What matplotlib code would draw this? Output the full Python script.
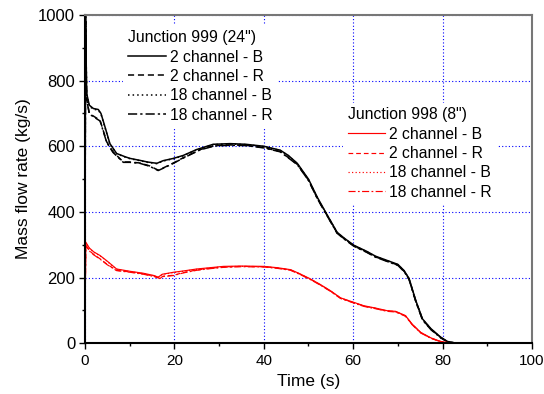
import matplotlib
matplotlib.use("Agg")
import matplotlib.pyplot as plt
from matplotlib.ticker import MultipleLocator

plt.rcParams["font.family"] = ["Liberation Sans", "DejaVu Sans"]

# Junction 999 (24") -- black
t_999_2b = [0, 0.15, 0.4, 1.0, 1.9, 3.0, 3.6, 4.5, 5.6, 7.1, 9.0, 10.1, 12.3, 14.0, 16.1,
            17.5, 19.8, 22.0, 25.0, 28.7, 32.5, 36.0, 40.0, 43.7, 45.5, 47.5, 50.0, 52.0,
            53.8, 56.4, 58.0, 60.2, 63.0, 65.0, 67.6, 70.0, 71.4, 72.5, 74.0, 75.5, 77.4,
            79.6, 81.1, 83.0, 100.0]
m_999_2b = [0, 1000, 761, 725, 715, 712, 700, 659, 608, 578, 568, 563, 557, 552, 548,
            556, 563, 572, 590, 606, 608, 606, 600, 588, 572, 548, 500, 444,
            400, 338, 320, 298, 280, 265, 252, 240, 221, 197, 130, 74, 44,
            18, 5, 0, 0]
t_999_18b = t_999_2b
m_999_18b = [0, 1000, 758, 722, 713, 710, 698, 657, 606, 577, 567, 562, 556, 551, 547,
             555, 562, 571, 589, 605, 607, 605, 599, 587, 571, 547, 498, 442,
             399, 337, 319, 297, 279, 264, 251, 239, 220, 196, 129, 73, 43,
             17, 5, 0, 0]

t_999_2r = [0, 0.15, 0.4, 1.0, 1.9, 3.4, 4.9, 6.3, 8.6, 10.1, 12.3, 14.5, 16.4, 18.0,
            19.8, 22.0, 25.8, 29.0, 32.5, 36.0, 40.0, 43.7, 47.5, 50.0, 52.0, 53.8,
            56.4, 58.0, 60.2, 63.0, 65.0, 67.6, 70.0, 71.4, 72.5, 74.0, 75.5, 77.4,
            79.6, 81.1, 83.0, 100.0]
m_999_2r = [0, 980, 745, 700, 692, 679, 613, 583, 552, 552, 549, 540, 527, 537,
            549, 565, 590, 602, 604, 603, 596, 584, 545, 497, 441, 398,
            336, 318, 296, 278, 263, 250, 238, 219, 195, 128, 72, 42,
            17, 4, 0, 0]
t_999_18r = t_999_2r
m_999_18r = [0, 980, 743, 698, 690, 677, 611, 581, 551, 551, 548, 539, 526, 536,
             548, 564, 589, 601, 603, 602, 595, 583, 544, 496, 440, 397,
             335, 317, 295, 277, 262, 249, 237, 218, 194, 127, 71, 41,
             16, 4, 0, 0]

# Junction 998 (8") -- red
t_998_2b = [0, 0.2, 1.0, 2.0, 3.4, 5.0, 7.1, 10.1, 13.1, 15.5, 16.4, 17.3, 19.8, 22.0,
            25.0, 28.0, 31.0, 35.0, 40.0, 43.0, 46.0, 48.0, 50.4, 52.5, 54.9, 57.2,
            60.0, 62.4, 65.0, 67.6, 69.5, 71.7, 73.2, 75.1, 77.4, 79.6, 82.0, 100.0]
m_998_2b = [0, 308, 290, 278, 267, 250, 226, 219, 213, 206, 201, 210, 216, 220,
            226, 230, 234, 235, 234, 230, 224, 212, 196, 180, 160, 138,
            125, 114, 107, 99, 97, 84, 58, 33, 16, 5, 0, 0]
t_998_18b = t_998_2b
m_998_18b = [0, 306, 289, 277, 266, 249, 225, 218, 212, 205, 200, 209, 215, 219,
             225, 229, 233, 234, 233, 229, 223, 211, 195, 179, 159, 137,
             124, 113, 106, 98, 96, 83, 57, 32, 15, 5, 0, 0]

t_998_2r = [0, 0.2, 1.0, 2.0, 3.4, 5.0, 7.1, 10.1, 13.1, 15.5, 16.8, 17.5, 19.8, 22.0,
            25.0, 28.0, 31.0, 35.0, 40.0, 43.0, 46.0, 48.0, 50.4, 52.5, 54.9, 57.2,
            60.0, 62.4, 65.0, 67.6, 69.5, 71.7, 73.2, 75.1, 77.4, 79.6, 82.0, 100.0]
m_998_2r = [0, 300, 282, 270, 257, 240, 222, 217, 211, 204, 198, 204, 207, 215,
            223, 228, 232, 234, 233, 229, 223, 211, 195, 179, 159, 137,
            124, 113, 106, 98, 96, 83, 57, 32, 15, 5, 0, 0]
t_998_18r = t_998_2r
m_998_18r = [0, 298, 281, 269, 256, 239, 221, 216, 210, 203, 197, 203, 206, 214,
             222, 227, 231, 233, 232, 228, 222, 210, 194, 178, 158, 136,
             123, 112, 105, 97, 95, 82, 56, 31, 15, 4, 0, 0]

labels = ["2 channel - B", "2 channel - R", "18 channel - B", "18 channel - R"]
styles = ["-", (0, (4, 2.5)), (0, (1, 2)), (0, (6, 2, 1.5, 2))]

fig = plt.figure(figsize=(5.44, 3.94), dpi=100)
ax = fig.add_axes([0.156, 0.129, 0.822, 0.833])

black = []
for (t, m), ls in zip([(t_999_2b, m_999_2b), (t_999_2r, m_999_2r),
                       (t_999_18b, m_999_18b), (t_999_18r, m_999_18r)], styles):
    (ln,) = ax.plot(t, m, color="black", ls=ls, lw=1.1)
    black.append(ln)

red = []
for (t, m), ls in zip([(t_998_2b, m_998_2b), (t_998_2r, m_998_2r),
                       (t_998_18b, m_998_18b), (t_998_18r, m_998_18r)], styles):
    (ln,) = ax.plot(t, m, color="red", ls=ls, lw=0.85)
    red.append(ln)

ax.set_xlim(0, 100)
ax.set_ylim(0, 1000)
ax.xaxis.set_major_locator(MultipleLocator(20))
ax.xaxis.set_minor_locator(MultipleLocator(10))
ax.yaxis.set_major_locator(MultipleLocator(200))
ax.yaxis.set_minor_locator(MultipleLocator(100))
ax.grid(True, which="major", color="blue", ls=(0, (1, 2)), lw=0.8)
ax.tick_params(which="major", direction="out", length=4, width=1)
ax.tick_params(which="minor", direction="out", length=2.5, width=1)
ax.tick_params(axis="x", labelsize=11, pad=4)
ax.tick_params(axis="y", labelsize=12, pad=3)
for side in ("left", "bottom"):
    ax.spines[side].set_linewidth(1.5)
for side in ("top", "right"):
    ax.spines[side].set_color("#777777")
    ax.spines[side].set_linewidth(1.5)

ax.set_xlabel("Time (s)", fontsize=12.5, labelpad=4)
ax.set_ylabel("Mass flow rate (kg/s)", fontsize=12.5, labelpad=5)

leg_kw = dict(loc="upper left", fontsize=11.3, title_fontsize=11.3, alignment="left",
              frameon=True, fancybox=False, facecolor="white", edgecolor="none",
              framealpha=1.0, handlelength=2.4, handletextpad=0.25, labelspacing=0.28,
              borderpad=0.3, borderaxespad=0)
leg1 = ax.legend(black, labels, title='Junction 999 (24")',
                 bbox_to_anchor=(0.086, 0.968), **leg_kw)
ax.add_artist(leg1)
ax.legend(red, labels, title='Junction 998 (8")',
          bbox_to_anchor=(0.577, 0.733), **leg_kw)

fig.savefig("out.png", dpi=100)
